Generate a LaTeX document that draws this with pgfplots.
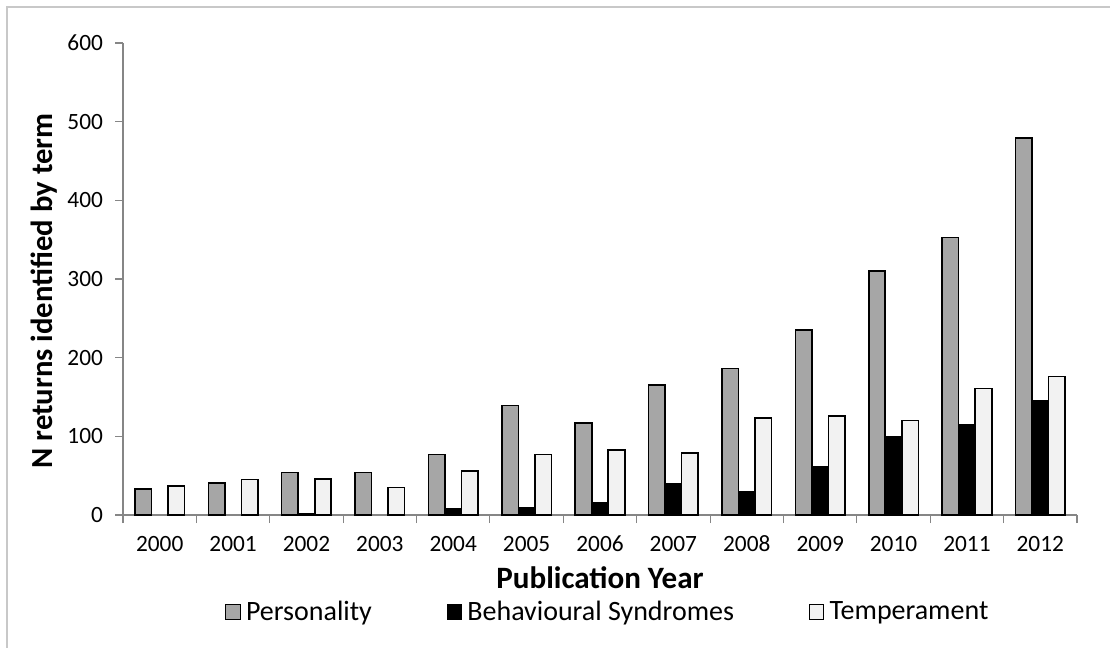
\documentclass[border=0pt]{standalone}
\usepackage{pgfplots}
\pgfplotsset{compat=1.18}
\usepackage{fontspec}
\setmainfont{Carlito}
\definecolor{persgray}{HTML}{A6A6A6}
\definecolor{tempwhite}{HTML}{F2F2F2}
\definecolor{axisgray}{HTML}{868686}
\definecolor{framegray}{HTML}{C8C8C8}
\begin{document}
\begin{tikzpicture}
% page = 1110 x 648 px at 0.75pt per px
\useasboundingbox (0,0) rectangle (832.5pt,-486pt);
\draw[framegray, line width=0.9pt] (5.25pt,-5.25pt) rectangle (850pt,-500pt);
\begin{axis}[
    at={(92.25pt,-386.25pt)}, anchor=south west,
    scale only axis,
    width=715.5pt, height=354pt,
    ybar=0pt, bar width=0.225,
    xmin=-0.5, xmax=12.5,
    ymin=0, ymax=600,
    xtick={0,...,12},
    xticklabels={2000,2001,2002,2003,2004,2005,2006,2007,2008,2009,2010,2011,2012},
    minor xtick={-0.5,0.5,...,12.5},
    major x tick style={draw=none},
    ytick={0,100,...,600},
    axis x line*=bottom, axis y line*=left,
    axis line style={axisgray, line width=1pt, -},
    every tick/.style={axisgray, line width=0.8pt},
    tick align=outside,
    major tick length=6pt, minor tick length=6pt,
    /pgf/number format/assume math mode=true,
    /pgf/number format/1000 sep={},
    tick label style={font=\fontsize{17.5}{20}\selectfont, black},
    yticklabel style={xshift=-5.5pt},
    xticklabel style={text height=11.5pt, text depth=0pt, yshift=-6pt},
    xlabel={\textbf{Publication Year}},
    xlabel style={at={(axis description cs:0.5,-0.1547)}, anchor=base,
        font=\fontsize{23.3}{28}\selectfont},
    ylabel={\textbf{N returns identified by term}},
    ylabel style={at={(axis description cs:-0.0830,0.4746)}, anchor=center,
        rotate=0, font=\fontsize{23}{28}\selectfont},
    legend columns=3,
    legend style={at={(axis description cs:0.1069,-0.2055)}, anchor=west,
        draw=none, fill=none, inner sep=0pt,
        font=\fontsize{21}{25}\selectfont,
        /tikz/every even column/.append style={column sep=52pt},
        nodes={inner xsep=4pt, inner ysep=0pt}},
    legend image code/.code={\draw[#1, line width=0.6pt] (0pt,-5.5pt) rectangle (11pt,5.5pt);},
]
\addplot[fill=persgray, draw=black, line width=1.2pt] coordinates {
    (0,33) (1,41) (2,54) (3,54) (4,77) (5,139) (6,117)
    (7,165) (8,186) (9,235) (10,310) (11,353) (12,479)
};
\addlegendentry{Personality}
\addplot[fill=black, draw=black, line width=1.2pt] coordinates {
    (2,2) (4,8) (5,9) (6,15)
    (7,40) (8,29) (9,61) (10,100) (11,115) (12,145)
};
\addlegendentry{Behavioural Syndromes}
\addplot[fill=tempwhite, draw=black, line width=1.2pt] coordinates {
    (0,37) (1,45) (2,46) (3,35) (4,56) (5,77) (6,83)
    (7,79) (8,123) (9,126) (10,120) (11,161) (12,176)
};
\addlegendentry{Temperament}
\end{axis}
\end{tikzpicture}
\end{document}
